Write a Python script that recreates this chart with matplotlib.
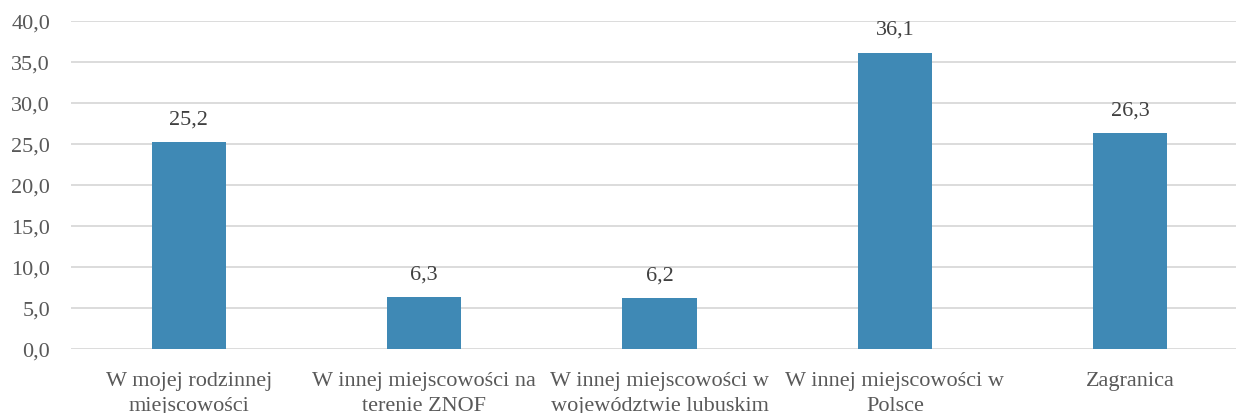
import matplotlib.pyplot as plt
import numpy as np

categories = [
    "W mojej rodzinnej\nmiejscowości",
    "W innej miejscowości na\nterenie ZNOF",
    "W innej miejscowości w\nwojewództwie lubuskim",
    "W innej miejscowości w\nPolsce",
    "Zagranica",
]
values = [25.2, 6.3, 6.2, 36.1, 26.3]

plt.rcParams['font.family'] = ['Liberation Serif', 'DejaVu Serif']
text_color = '#595959'

fig = plt.figure(figsize=(12.36, 4.14), dpi=100)
# plot area runs a little past the right edge, as in the original crop
ax = fig.add_axes([71 / 1236, 0.1546, 1177 / 1236, 0.7923])

x = np.arange(len(categories))
ax.bar(x, values, width=0.315, color='#3F89B5', zorder=3)

for xi, v in zip(x, values):
    ax.text(xi, v + 1.7, f"{v:.1f}".replace('.', ','), ha='center', va='bottom',
            fontsize=16, color='#404040')

ax.set_xlim(-0.5, len(categories) - 0.5)
ax.set_ylim(0, 40)
ax.set_yticks(np.arange(0, 41, 5))
ax.set_yticklabels([f"{t:.1f}".replace('.', ',') for t in np.arange(0, 41, 5)])
ax.set_xticks(x)
ax.set_xticklabels(categories, linespacing=1.4)

ax.grid(axis='y', color='#D9D9D9', linewidth=1.3, zorder=0)
for s in ['top', 'right', 'left', 'bottom']:
    ax.spines[s].set_visible(False)
ax.tick_params(axis='both', length=0, labelsize=16, colors=text_color)
ax.tick_params(axis='y', pad=15)
ax.tick_params(axis='x', pad=16)

fig.savefig('out.png', dpi=100)
